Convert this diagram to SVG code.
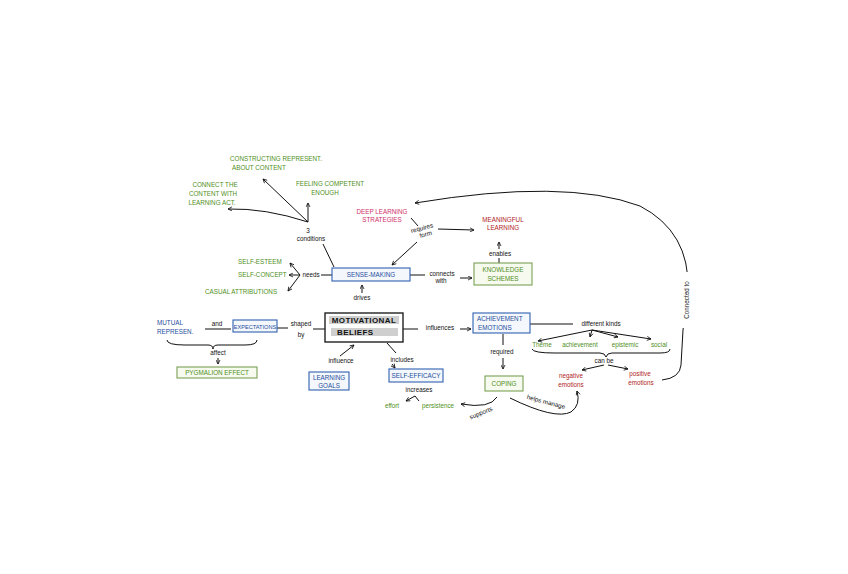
<svg xmlns="http://www.w3.org/2000/svg" width="848" height="574" viewBox="0 0 848 574">
<defs>
<marker id="ah" viewBox="0 0 10 10" refX="9" refY="5" markerWidth="5" markerHeight="5" orient="auto-start-reverse">
<path d="M1,1 L9,5 L1,9" fill="none" stroke="#111" stroke-width="1.6"/>
</marker>
<style>
text{font-family:"Liberation Sans",Arial,sans-serif;font-size:6.3px;text-anchor:middle}
.g{fill:#4f8f23}
.b{fill:#1d4f9e}
.r{fill:#b01c1c}
.p{fill:#d0306a}
.k{fill:#111}
.bb{fill:#f4f7fc;stroke:#3061b0;stroke-width:1.1}
.gb{fill:#f6faef;stroke:#7aa055;stroke-width:1.1}
.c{fill:none;stroke:#111;stroke-width:1}
.a{marker-end:url(#ah)}
</style>
</defs>
<rect width="848" height="574" fill="#fff"/>

<g id="connectors">
<path class="c a" d="M308,222 L263,179"/>
<path class="c a" d="M308,222 L308,203"/>
<path class="c a" d="M308,222 Q265,208 228,209"/>
<path class="c" d="M323,244 L334,267"/>
<path class="c a" d="M300,275 L290,263"/>
<path class="c a" d="M300,275 L289,275"/>
<path class="c a" d="M300,275 L288,291"/>
<path class="c" d="M321,275 L332,275"/>
<path class="c a" d="M362,293 L362,285"/>
<path class="c" d="M277,328 L288,328"/>
<path class="c" d="M313,329 L325,329"/>
<path class="c" d="M205,329 L231,329"/>
<path class="c" d="M167,340 Q167,345 185,345 L208,345 Q213,345 213,349 Q213,345 218,345 L245,345 Q257,345 257,340"/>
<path class="c a" d="M218,358 L218,364"/>
<path class="c a" d="M340,356 L354,345"/>
<path class="c" d="M387,343 L396,353"/>
<path class="c a" d="M392,364 L395,368"/>
<path class="c a" d="M419,401 L415,396 L406,401"/>
<path class="c" d="M402,329 L418,329"/>
<path class="c a" d="M460,329 L471,329"/>
<path class="c" d="M530,324 L573,324"/>
<path class="c a" d="M592,330 L538,341"/>
<path class="c a" d="M592,330 L590,337"/>
<path class="c a" d="M592,330 L618,337"/>
<path class="c a" d="M592,330 L651,339"/>
<path class="c" d="M532,349 Q533,353 555,353 L600,353 Q605,353 606,357 Q607,353 612,353 L660,353 Q670,353 670,349"/>
<path class="c a" d="M604,365 L582,370"/>
<path class="c a" d="M608,365 L628,369"/>
<path class="c" d="M503,334 L503,345"/>
<path class="c a" d="M503,358 L503,369"/>
<path class="c a" d="M497,397 Q490,409 461,404"/>
<path class="c a" d="M510,398 Q555,420 571,412 Q581,405 577,391"/>
<path class="c a" d="M662,380 Q680,378 681,365 L683,330 L688,290 Q690,232 640,206 Q565,178 415,203"/>
<path class="c" d="M411,218 L418,226"/>
<path class="c a" d="M438,229 L474,230"/>
<path class="c a" d="M417,242 L392,265"/>
<path class="c a" d="M499,249 L499,242"/>
<path class="c" d="M499,258 L499,263"/>
<path class="c" d="M410,275 L425,275"/>
<path class="c a" d="M460,278 L472,278"/>
</g>

<g id="n-constructing">
<text class="g" x="230" y="161" style="text-anchor:start">CONSTRUCTING REPRESENT.</text>
<text class="g" x="232" y="170" style="text-anchor:start">ABOUT CONTENT</text>
</g>
<g id="n-feeling">
<text class="g" x="330" y="186">FEELING COMPETENT</text>
<text class="g" x="325" y="195">ENOUGH</text>
</g>
<g id="n-connect">
<text class="g" x="215" y="187">CONNECT THE</text>
<text class="g" x="213" y="196">CONTENT WITH</text>
<text class="g" x="212" y="205">LEARNING ACT.</text>
</g>
<g id="n-conditions">
<text class="k" x="308" y="233">3</text>
<text class="k" x="311" y="241">conditions</text>
</g>
<g id="n-deep">
<text class="p" x="382" y="214">DEEP LEARNING</text>
<text class="p" x="382" y="222">STRATEGIES</text>
</g>
<g id="n-requires">
<text class="k" x="423" y="230" transform="rotate(-15 423 232)">requires</text>
<text class="k" x="425" y="237" transform="rotate(-15 423 232)">form</text>
</g>
<g id="n-meaningful">
<text class="r" x="503" y="222">MEANINGFUL</text>
<text class="r" x="503" y="230">LEARNING</text>
</g>
<g id="n-enables">
<text class="k" x="500" y="256">enables</text>
</g>
<g id="n-knowledge">
<rect class="gb" x="474" y="263" width="58" height="22"/>
<text class="g" x="503" y="272">KNOWLEDGE</text>
<text class="g" x="503" y="281">SCHEMES</text>
</g>
<g id="n-connects">
<text class="k" x="442" y="276">connects</text>
<text class="k" x="441" y="283">with</text>
</g>
<g id="n-sense">
<rect class="bb" x="332" y="268" width="78" height="13"/>
<text class="b" x="371" y="277">SENSE-MAKING</text>
</g>
<g id="n-needs">
<text class="k" x="311" y="277">needs</text>
</g>
<g id="n-esteem">
<text class="g" x="238" y="264" style="text-anchor:start">SELF-ESTEEM</text>
</g>
<g id="n-concept">
<text class="g" x="238" y="277" style="text-anchor:start">SELF-CONCEPT</text>
</g>
<g id="n-casual">
<text class="g" x="205" y="294" style="text-anchor:start">CASUAL ATTRIBUTIONS</text>
</g>
<g id="n-drives">
<text class="k" x="362" y="300">drives</text>
</g>
<g id="n-motivational">
<rect x="325" y="313" width="78" height="29" fill="#fff" stroke="#222" stroke-width="1.4"/>
<rect x="329" y="316" width="70" height="8" fill="#cfcfcf"/>
<rect x="331" y="328" width="67" height="8" fill="#cfcfcf"/>
<text class="k" x="364" y="323" style="font-size:8px;font-weight:bold;letter-spacing:0.4px">MOTIVATIONAL</text>
<text class="k" x="337" y="335" style="font-size:8px;font-weight:bold;text-anchor:start;letter-spacing:0.4px">BELIEFS</text>
</g>
<g id="n-shaped">
<text class="k" x="301" y="326">shaped</text>
<text class="k" x="301" y="337">by</text>
</g>
<g id="n-expectations">
<rect class="bb" x="233" y="320" width="44" height="12"/>
<text class="b" x="255" y="328.5" style="font-size:5.6px">EXPECTATIONS</text>
</g>
<g id="n-mutual">
<text class="b" x="157" y="325" style="text-anchor:start">MUTUAL</text>
<text class="b" x="157" y="334" style="text-anchor:start">REPRESEN.</text>
</g>
<g id="n-and">
<text class="k" x="217" y="326">and</text>
</g>
<g id="n-affect">
<text class="k" x="218" y="355">affect</text>
</g>
<g id="n-pygmalion">
<rect class="gb" x="177" y="367" width="80" height="11"/>
<text class="g" x="217" y="375">PYGMALION EFFECT</text>
</g>
<g id="n-influence">
<text class="k" x="341" y="363">influence</text>
</g>
<g id="n-learning-goals">
<rect class="bb" x="309" y="372" width="40" height="18"/>
<text class="b" x="329" y="380">LEARNING</text>
<text class="b" x="329" y="387.5">GOALS</text>
</g>
<g id="n-includes">
<text class="k" x="402" y="362">includes</text>
</g>
<g id="n-selfefficacy">
<rect class="bb" x="389" y="369" width="54" height="13"/>
<text class="b" x="416" y="378">SELF-EFFICACY</text>
</g>
<g id="n-increases">
<text class="k" x="419" y="392">increases</text>
</g>
<g id="n-effort">
<text class="g" x="392" y="408">effort</text>
</g>
<g id="n-persistence">
<text class="g" x="438" y="408">persistence</text>
</g>
<g id="n-influences">
<text class="k" x="440" y="330">influences</text>
</g>
<g id="n-achievement">
<rect class="bb" x="473" y="313" width="57" height="20"/>
<text class="b" x="477" y="321" style="text-anchor:start">ACHIEVEMENT</text>
<text class="b" x="478" y="329.5" style="text-anchor:start">EMOTIONS</text>
</g>
<g id="n-kinds">
<text class="k" x="601" y="326">different kinds</text>
</g>
<g id="n-theme"><text class="g" x="542" y="347">Theme</text></g>
<g id="n-achv"><text class="g" x="580" y="347">achievement</text></g>
<g id="n-epistemic"><text class="g" x="625" y="347">epistemic</text></g>
<g id="n-social"><text class="g" x="659" y="347">social</text></g>
<g id="n-canbe"><text class="k" x="604" y="363">can be</text></g>
<g id="n-negative">
<text class="r" x="571" y="378">negative</text>
<text class="r" x="571" y="387">emotions</text>
</g>
<g id="n-positive">
<text class="r" x="640" y="376">positive</text>
<text class="r" x="641" y="385">emotions</text>
</g>
<g id="n-required"><text class="k" x="502" y="354">required</text></g>
<g id="n-coping">
<rect class="gb" x="485" y="376" width="38" height="15"/>
<text class="g" x="504" y="386">COPING</text>
</g>
<g id="n-supports">
<text class="k" x="481" y="415" transform="rotate(-22 481 413)">supports</text>
</g>
<g id="n-helps">
<text class="k" x="546" y="404" transform="rotate(15 546 402)">helps manage</text>
</g>
<g id="n-connected">
<rect x="682" y="272" width="9" height="56" fill="#fff"/>
<text class="k" x="686.5" y="302" transform="rotate(-90 686.5 300)">Connected to</text>
</g>
</svg>
